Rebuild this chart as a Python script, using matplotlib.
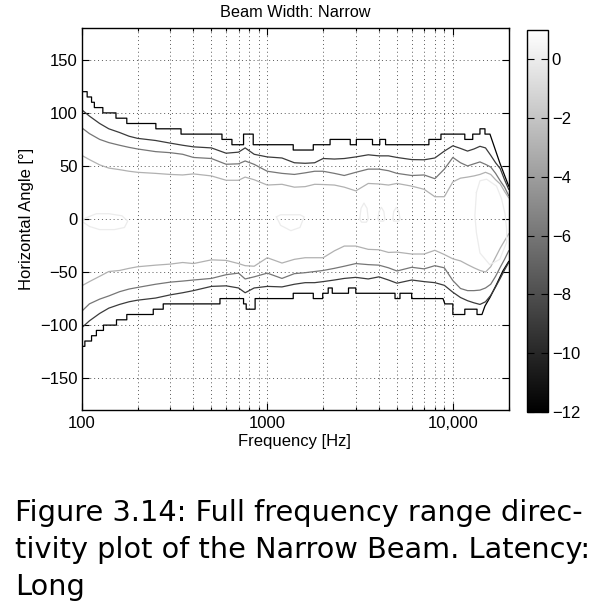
import numpy as np
import matplotlib.pyplot as plt
from matplotlib import colors, cm
from matplotlib.ticker import FixedLocator, LogLocator, NullFormatter

# colour scale of the contour plot (dB)
c_min, c_max = -12, 1
cbar_ticks = [0, -2, -4, -6, -8, -10, -12]

# common frequency grid (Hz) for the smooth contour lines
freq = [100, 110, 125, 140, 160, 180, 200, 250, 300, 350, 400, 500, 600, 700,
        760, 850, 1000, 1200, 1400, 1600, 1800, 2000, 2300, 2600, 3000, 3500,
        4000, 4500, 5000, 6000, 7000, 8000, 9000, 10000, 11000, 12000, 13000,
        14000, 15000, 16000, 17000, 18000, 19000, 20000]

# -9 dB contour (upper / lower side)
up_9 = [103, 97, 90, 85, 81.5, 78, 76, 74, 71.5, 69.5, 68, 67, 62, 63,
        67, 61, 58.5, 57.5, 53, 52.5, 53, 57, 56.5, 57, 58.5, 60.5,
        59.5, 59.5, 58, 56, 55.8, 57.5, 64, 69, 66.5, 64, 66,
        68.5, 67, 60, 53, 47.5, 37, 28]
lo_9 = [-102.5, -96, -89, -84, -80.5, -78, -76.5, -74.5, -71.5, -69.5, -67.5, -63.5, -63, -65,
        -69.5, -65, -63.5, -64, -61.5, -60, -60, -59, -57.5, -56, -55, -56.5,
        -54.5, -57.5, -60.5, -57.5, -59, -60, -62.5, -69, -74, -77, -79,
        -80.5, -78, -72, -64, -56, -48, -41]

# -6 dB contour
up_6 = [86, 80.5, 75, 72, 69.5, 67.5, 66, 63.5, 62.5, 61, 58, 57, 51.6, 52,
        54.7, 51.5, 45, 43, 42, 43.5, 45, 45, 43, 41, 44, 47,
        47, 45.5, 43, 41, 41.5, 38, 47, 58, 53, 50, 52,
        53.8, 51.5, 49, 43, 36, 30, 22]
lo_6 = [-87, -80, -75.5, -72.5, -68.5, -66, -64.5, -61.5, -59.5, -58.5, -57.5, -56, -52.5, -51,
        -56.5, -54.5, -51, -56, -51.5, -50.6, -49.5, -48.5, -46.5, -44.5, -42, -43,
        -43.5, -46, -49, -45.5, -47, -44, -46, -58, -65.5, -67.5, -67.5,
        -67, -65, -61.5, -54, -45.5, -38, -30]

# -3 dB contour
up_3 = [60, 56, 51, 48, 46.5, 45, 44, 43, 42, 41.5, 42.5, 40.6, 36.5, 36.5,
        39.5, 37, 32, 32.7, 30, 30.5, 32.7, 32.5, 32, 30, 26.5, 33.5,
        33, 32, 33.5, 31, 28, 21, 21, 35, 38.5, 39.5, 40.6,
        42, 44, 42, 37, 33, 26, 20]
lo_3 = [-63, -59, -54, -49.5, -48.5, -46.5, -45, -43.5, -42.5, -41, -42, -38.5, -39, -42,
        -44, -44.5, -36.5, -41.5, -38, -36.5, -36.5, -36.5, -30, -25.5, -25.5, -28.6,
        -29, -31.5, -31.2, -33, -33, -29.5, -33.5, -37.5, -39.5, -43, -46,
        -48.5, -50, -45, -36, -27.5, -20.5, -14]

# -12 dB contour (stair-stepped)
up_12_f = [100, 107, 107, 113, 113, 117, 117, 130, 130, 153, 153, 175, 175, 251, 251,
           343, 343, 570, 570, 645, 645, 745, 745, 840, 840, 1380, 1380, 1770, 1770,
           2180, 2180, 2800, 2800, 3020, 3020, 3690, 3690, 4040, 4040, 4340, 4340,
           7430, 7430, 8630, 8630, 11600, 11600, 12800, 12800, 14000, 14000, 14900,
           14900, 15850, 17900, 20000]
up_12_a = [120, 120, 115, 115, 110, 110, 105, 105, 100, 100, 95, 95, 90, 90, 85,
           85, 80, 80, 75, 75, 70, 70, 80, 80, 70, 70, 65, 65, 70,
           70, 75, 75, 70, 70, 75, 75, 70, 70, 75, 75, 70,
           70, 75, 75, 80, 80, 75, 75, 80, 80, 85, 85,
           80, 80, 53, 31]
lo_12_f = [100, 104, 104, 113, 113, 120, 120, 131, 131, 154, 154, 175, 175, 243, 243,
           275, 275, 556, 556, 745, 745, 770, 770, 860, 860, 1380, 1380, 1770, 1770,
           1990, 1990, 2130, 2130, 2240, 2240, 2740, 2740, 3000, 3000, 4880, 4880,
           5190, 5190, 6000, 6000, 8850, 9060, 10000, 10000, 11600, 11600, 13500,
           13500, 14350, 14900, 15850, 17200, 18600, 20000]
lo_12_a = [-120, -120, -115, -115, -110, -110, -105, -105, -100, -100, -95, -95, -90, -90, -85,
           -85, -80, -80, -75, -75, -80, -80, -85, -85, -75, -75, -70, -70, -75,
           -75, -70, -70, -65, -65, -70, -70, -65, -65, -70, -70, -75,
           -75, -70, -70, -75, -75, -80, -80, -90, -90, -85, -85,
           -90, -90, -82, -74, -61.6, -49, -40]

# 0 dB contour islands
blob_right_f = [13400, 14000, 15200, 17200, 18300, 19100, 19500, 19500, 17900, 15800,
                14000, 13400, 13150, 13400]
blob_right_a = [25, 36, 37.5, 31, 19, 5, -10, -22, -38, -43, -32, -13, 3, 25]
blob_a_f = [3150, 3200, 3320, 3450, 3500, 3420, 3320, 3220, 3150]
blob_a_a = [0, 10, 15, 10, 0, -3, -3, -3, 0]
blob_b_f = [3950, 4000, 4120, 4250, 4300, 4230, 4120, 4000, 3950]
blob_b_a = [0, 7, 11, 7, 0, -2, -2, -2, 0]
blob_c_f = [4750, 4800, 4960, 5120, 5190, 5120, 4960, 4800, 4750]
blob_c_a = [0, 7, 11, 7, 0, -2, -2, -2, 0]
blob_d_f = [1120, 1180, 1340, 1500, 1580, 1500, 1340, 1180, 1120]
blob_d_a = [2, -6, -11, -8, 2, 4, 4, 4, 2]
blob_e_f = [100, 110, 125, 150, 170, 177, 165, 140, 120, 105, 100]
blob_e_a = [-2, -7, -10, -10, -8, -2, 3, 5, 5, 1, -2]

W, H = 602, 611
fig = plt.figure(figsize=(W / 100, H / 100), dpi=100)
plt.rcParams['font.family'] = ['Liberation Sans', 'DejaVu Sans']

ax = fig.add_axes([81.7 / W, 1 - 410 / H, 427 / W, 382 / H])
cax = fig.add_axes([527 / W, 1 - 412 / H, 21 / W, 382 / H])

norm = colors.Normalize(c_min, c_max)
cmap = plt.get_cmap('gray')

lw = 0.9
ax.plot(up_12_f, up_12_a, color=cmap(norm(-12)), lw=lw)
ax.plot(lo_12_f, lo_12_a, color=cmap(norm(-12)), lw=lw)
ax.plot(freq, up_9, color=cmap(norm(-9)), lw=lw)
ax.plot(freq, lo_9, color=cmap(norm(-9)), lw=lw)
ax.plot(freq, up_6, color=cmap(norm(-6)), lw=lw)
ax.plot(freq, lo_6, color=cmap(norm(-6)), lw=lw)
ax.plot(freq, up_3, color=cmap(norm(-3)), lw=lw)
ax.plot(freq, lo_3, color=cmap(norm(-3)), lw=lw)
for bf, ba in [(blob_right_f, blob_right_a), (blob_a_f, blob_a_a), (blob_b_f, blob_b_a),
               (blob_c_f, blob_c_a), (blob_d_f, blob_d_a), (blob_e_f, blob_e_a)]:
    ax.plot(bf, ba, color=cmap(norm(0)), lw=lw)

ax.set_xscale('log')
ax.set_xlim(100, 20000)
ax.set_ylim(-180, 180)
ax.xaxis.set_major_locator(FixedLocator([100, 1000, 10000]))
ax.set_xticklabels(['100', '1000', '10,000'])
ax.xaxis.set_minor_locator(LogLocator(base=10, subs=np.arange(2, 10)))
ax.xaxis.set_minor_formatter(NullFormatter())
ax.set_yticks([-150, -100, -50, 0, 50, 100, 150])

grid_kw = dict(color='0.35', lw=0.7, linestyle=(0, (1, 3)))
ax.grid(True, which='major', axis='both', **grid_kw)
ax.grid(True, which='minor', axis='x', **grid_kw)

ax.tick_params(which='both', direction='in', top=True, right=True, labelsize=12, width=0.8)
ax.tick_params(which='major', length=5)
ax.tick_params(which='minor', length=2.5)
ax.tick_params(axis='x', pad=4.5)
ax.tick_params(axis='y', pad=3)
for s in ax.spines.values():
    s.set_linewidth(1.0)

fig.text(295 / W, 1 - 17 / H, 'Beam Width: Narrow', ha='center', va='baseline', fontsize=11.7)
fig.text(294 / W, 1 - 446 / H, 'Frequency [Hz]', ha='center', va='baseline', fontsize=12)
fig.text(26 / W, 1 - 219 / H, 'Horizontal Angle [°]', ha='center', va='center',
         rotation=90, fontsize=12)

sm = cm.ScalarMappable(norm=norm, cmap=cmap)
cb = fig.colorbar(sm, cax=cax)
cb.set_ticks(cbar_ticks)
cb.ax.tick_params(direction='in', left=True, right=True, labelsize=12, length=5, width=0.8, pad=2.7)
cb.outline.set_linewidth(1.0)

caption = ['Figure 3.14: Full frequency range direc-',
           'tivity plot of the Narrow Beam. Latency:',
           'Long']
for i, line in enumerate(caption):
    fig.text(15 / W, 1 - (521 + 37 * i) / H, line, ha='left', va='baseline',
             fontsize=20.7, family='DejaVu Sans')

fig.savefig('out.png', dpi=100)
